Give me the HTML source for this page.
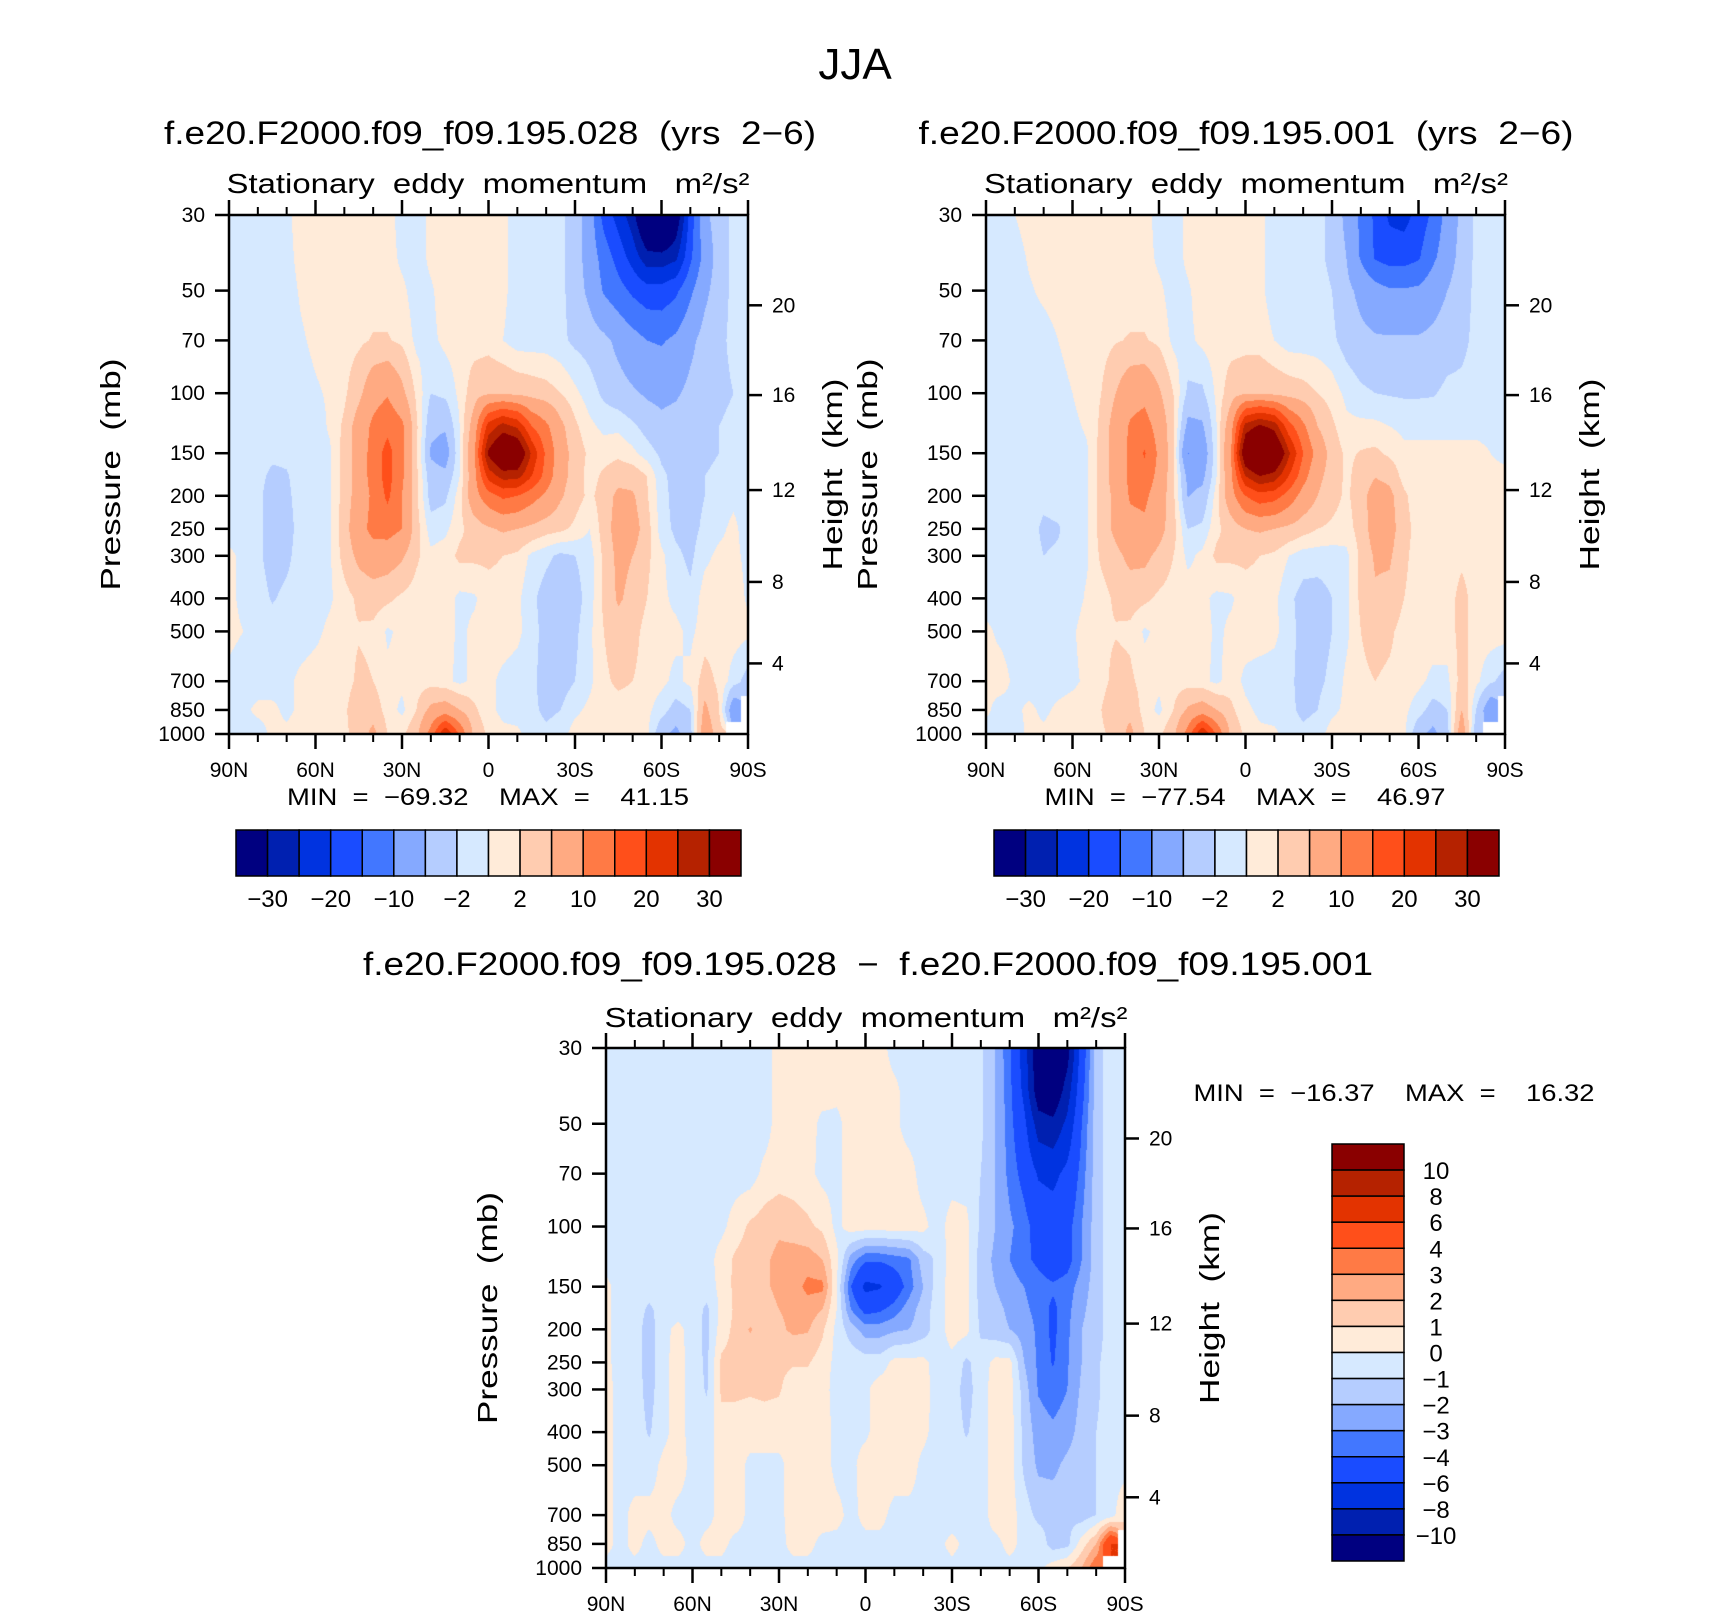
<!DOCTYPE html>
<html>
<head>
<meta charset="utf-8">
<title>JJA Stationary eddy momentum</title>
<style>
  body{margin:0;width:1710px;height:1617px;background:#fff;position:relative;overflow:hidden;font-family:"Liberation Sans",sans-serif;}
  canvas{position:absolute;}
  svg{position:absolute;left:0;top:0;}
  text{font-family:"Liberation Sans",sans-serif;fill:#000;white-space:pre;}
</style>
</head>
<body>
<canvas id="c1" width="519" height="519" style="left:229px;top:215px"></canvas>
<canvas id="c2" width="519" height="519" style="left:986px;top:215px"></canvas>
<canvas id="c3" width="519" height="520" style="left:606px;top:1048px"></canvas>
<svg id="ov" width="1710" height="1617" xml:space="preserve">
  <text x="855" y="79" font-size="44" text-anchor="middle">JJA</text>

  <text x="490" y="144" font-size="32" text-anchor="middle" textLength="652" lengthAdjust="spacingAndGlyphs">f.e20.F2000.f09_f09.195.028  (yrs  2−6)</text>
  <text x="488" y="193" font-size="28" text-anchor="middle" textLength="523" lengthAdjust="spacingAndGlyphs">Stationary  eddy  momentum   m²/s²</text>
  <text x="488" y="805" font-size="24" text-anchor="middle" textLength="402" lengthAdjust="spacingAndGlyphs">MIN  =  −69.32    MAX  =    41.15</text>

  <text x="1246" y="144" font-size="32" text-anchor="middle" textLength="655" lengthAdjust="spacingAndGlyphs">f.e20.F2000.f09_f09.195.001  (yrs  2−6)</text>
  <text x="1246" y="193" font-size="28" text-anchor="middle" textLength="524" lengthAdjust="spacingAndGlyphs">Stationary  eddy  momentum   m²/s²</text>
  <text x="1245" y="805" font-size="24" text-anchor="middle" textLength="401" lengthAdjust="spacingAndGlyphs">MIN  =  −77.54    MAX  =    46.97</text>

  <text x="868" y="975" font-size="32" text-anchor="middle" textLength="1010" lengthAdjust="spacingAndGlyphs">f.e20.F2000.f09_f09.195.028  −  f.e20.F2000.f09_f09.195.001</text>
  <text x="866" y="1027" font-size="28" text-anchor="middle" textLength="523" lengthAdjust="spacingAndGlyphs">Stationary  eddy  momentum   m²/s²</text>
  <text x="1394" y="1101" font-size="24" text-anchor="middle" textLength="401" lengthAdjust="spacingAndGlyphs">MIN  =  −16.37    MAX  =    16.32</text>
</svg>
<script>
// ---------- shared data ----------
const LATS = [90,85,80,75,70,65,60,55,50,45,40,35,30,25,20,15,10,5,0,-5,-10,-15,-20,-25,-30,-35,-40,-45,-50,-55,-60,-65,-70,-75,-80,-85,-90];
const LEVELS = [30,40,50,70,100,125,150,175,200,250,300,400,500,700,850,1000];
const P_TICKS = [30,50,70,100,150,200,250,300,400,500,700,850,1000];
const LAT_TICKS = [90,60,30,0,-30,-60,-90];
const LAT_LABELS = ["90N","60N","30N","0","30S","60S","90S"];
const LAT_MINOR = [80,70,50,40,20,10,-10,-20,-40,-50,-70,-80];
const H_TICKS = [20,16,12,8,4];
const H_FRAC = [0.174,0.347,0.530,0.707,0.864];
const COLORS = ["#000080","#0020b0","#0033e0","#1a4cff","#4277ff","#85a9ff","#b5cdff","#d6e9ff","#ffebd9","#ffccb0","#ffaa82","#ff7a45","#ff4f1a","#e33300","#b52200","#8a0000"];
const LEVS_ABS = [-30,-25,-20,-15,-10,-5,-2,0,2,5,10,15,20,25,30];
const LEVS_DIFF = [-10,-8,-6,-4,-3,-2,-1,0,1,2,3,4,6,8,10];
const CB_ABS_LABELS = ["−30","−20","−10","−2","2","10","20","30"];
const CB_DIFF_LABELS = ["10","8","6","4","3","2","1","0","−1","−2","−3","−4","−6","−8","−10"];

// ---------- field: case 028 (rows = LEVELS, cols = LATS) ----------
const FIELD_028 = [
[-1,-1,-1,-1,-0.5,1,1,1,1,1, 1,1,-1,-1,0.5,1,1,1,1,0.5, -1,-1,-1,-1.5,-3,-7,-17,-22,-28,-40, -45,-35,-18,-6,-3,-1.5,-1],
[-1,-1,-1,-1,-0.8,0.8,1,1,1,1, 1,1,-0.5,-1,0.5,1,1,1,1,0.5, -1,-1,-1,-1.5,-3,-7,-12,-17,-22,-28, -28,-26,-16,-8,-3,-1.5,-1],
[-1,-1,-1,-1,-1,0.3,1,1,1,1, 1,1,0.5,-1,-0.3,1,1,1,0.5,0.5, -1,-1,-1,-1.5,-3,-6,-10.5,-13,-16,-18, -18,-16,-11,-6,-3,-1.5,-1],
[-1,-1,-1,-1,-1,-0.3,0.5,1,1,1.5, 2.2,2.2,1.5,-0.5,-0.5,0.5,1,1,1,0, -1,-1,-1,-1.5,-2.5,-3,-4,-6,-8,-10, -10.5,-9,-6,-3.5,-2.5,-1.5,-1],
[-1,-1,-1,-1,-1,-1,-0.3,0.3,1.5,4, 8,9.5,6,1.5,-2,-1.5,0.5,3.5,4.5,4.5, 4,3.5,3,2,0.5,-1,-2.5,-3.5,-4.5,-5.5, -6,-5.5,-4,-3,-2.5,-2,-1],
[-1,-1,-1,-1.3,-1.3,-1,-1,0.3,2.5,7, 11,13.5,11,2.5,-4,-4.5,0,7,22,27, 24,15,11,6,2.5,0.5,-0.5,-0.5,-1.5,-3, -4,-3.5,-3,-2.5,-2,-1.5,-1],
[-1,-1,-1,-1.5,-1.5,-1,-1,-0.3,3,7, 12,17,11,2.5,-5.5,-7,0,9,31,40, 38,24,14,7,3.5,1.5,1,1.5,0.5,-1, -2.5,-3,-3,-2.5,-2,-1.5,-1],
[-1,-1,-1.3,-2.5,-2.2,-1,-1.2,-0.3,3,7, 12,17,11,2.5,-3.5,-4,0,8,22,27, 27,20,13,6.5,3.5,1,2.5,3.5,3.5,2, -1.5,-2.8,-3,-2,-1.5,-1,-1],
[-1,-1,-1.5,-3,-2.5,-1,-1.8,-0.2,3,7, 11,16,10,2.5,-3,-2.5,1,8,13,16, 15,12,9,5.5,3,1.5,3,6,5.5,2.2, -1,-3,-3,-2,-1,-0.5,-1],
[-1,-1,-1.5,-3,-3,-1,-1.8,-0.3,3.5,8, 11.5,12,10,3,-1,-0.5,1.5,3,4.5,5.5, 5,4,3,2.5,1.5,0,3,7,7,3, -1,-2.5,-2.8,-1.5,-0.5,0.5,-1],
[0.5,-0.5,-1.5,-3,-2.5,-1,-1,-0.3,3,6, 7.5,7,5.5,2.5,0.5,1,2.5,2.5,2.5,2, 1.5,-0.5,-1.5,-2.5,-2,-1,2.5,6,5,2.5, 0.5,-1.5,-2.5,-0.5,0.5,0.5,-0.5],
[0.5,-0.5,-1,-2.2,-1.5,-1,-1,-0.3,1,2.5, 3,2.5,1.5,0.8,1,1,-0.5,-0.3,1,1, 0.5,-1.5,-3,-3.5,-3,-1,2.5,5.5,4,2, 0.5,-0.5,-1.5,1,1,1,-0.3],
[0.5,0,-0.5,-1,-1,-1,-0.5,0.5,1.5,1.8, 1.5,-0.3,0.5,1,1,1,-0.5,0.5,1,1, 0.5,-1,-3,-3,-2.5,-0.5,2,3.5,3,1, 0.5,0.5,-0.5,1,1,1,0.5],
[-0.5,-1,-1,-1,-0.5,0.5,1,1,1,2.5, 2,0.5,0.5,1,1,0.5,-0.5,0.5,0.5,-0.5, -1,-1.5,-3,-3,-2,-0.5,1.5,2.5,2,1, 0.5,-0.5,0.5,3,1.5,-1,-3],
[-1,-0.5,0.5,0.5,-0.5,0.5,1,1,1.5,4, 3.5,1,-0.5,2,6,7,5,2.5,0.5,-0.5, -1,-1.5,-2.5,-2,-0.5,0.5,1,1,1,0.5, -1,-3,-2,6,2,-8,NaN],
[-1,-1,-1,0.5,0.5,1,1,1,1.5,3, 6,2,1.5,4,12,25,14,4,1.5,0.5, 0.5,-1,-1.5,-1,1,1,1,1,1,0.5, -4,-6,-3,8,3,NaN,NaN]
];

// ---------- field: case 001 ----------
const FIELD_001 = [
[-1,-1,0,1,1,1,1,1,1,1, 1,1,-1,-1,0.5,1,1,1,1,0.5, -1,-1,-1,-1.5,-2.5,-6,-11,-16,-21,-22, -18,-14,-8,-4,-1.5,-1,-1],
[-1,-1,-1,0.3,1,1,1,1,1,1, 1,1,-0.5,-1,0.5,1,1,1,1,0.5, -1,-1,-1,-1.5,-2.5,-5,-10.5,-15.5,-17,-17, -15.5,-11,-7,-3.5,-1.5,-1,-1],
[-1,-1,-1,-0.3,0.5,1,1,1,1,1, 1,1,0.5,-1,-0.3,1,1,1,0.5,0.5, -1,-1,-1,-1.2,-2,-4,-6,-8,-9.5,-9.5, -9,-7,-5,-3,-1.5,-1,-1],
[-1,-1,-1,-1,-1,0,1,1,1,1.8, 2.2,2.2,1.5,-0.5,-0.5,0.5,1,1,1,1, 0,-1,-1,-1,-1.5,-3,-4,-4.5,-4.5,-4.5, -4.5,-4,-3,-2.5,-1.5,-1,-1],
[-1,-1,-1,-1,-1,-1,0,1,2,5, 8,8.5,5.5,2,-2.5,-2.5,0.5,3.5,4.5,4.5, 4,3.5,3,2,1,-0.5,-1.5,-2,-2.2,-2.3, -2.3,-2.2,-1.5,-1.5,-1.2,-1,-1],
[-1,-1,-1,-1,-1,-1,-0.5,0.3,2.5,7, 10.5,12,8,2.5,-6,-5.5,0,8,27,31, 28,17,11,5,2.5,0.5,0.5,0.5,0,-0.5, -0.5,-0.5,-0.5,-0.5,-0.5,-0.5,-0.5],
[-1,-1,-1,-1,-1,-1,-1,-0.3,3,7, 11,15.5,9,2.5,-10.2,-8,0,10,37,45, 40,26,15,8,3.5,1.5,2.2,2.5,1.5,0.5, 0.5,0.5,0.5,0.5,0.5,0,-0.5],
[-1,-1,-1,-1,-1,-1,-1,-0.3,3,7, 11,13,8.5,2.5,-6,-6,0,9,25,30, 28,20,12,6,3.5,1.5,3,4.8,4,1, 0.5,0.5,0.5,0.5,0.5,0.5,0.5],
[-1,-1,-1,-1,-1.3,-1,-1,-0.3,3,6, 10.5,11,7.5,2.5,-5.2,-4,1,8,15,18, 17,13,8,5,3,1.5,3.5,7,6,2.5, 0.5,0.5,0.5,0.5,0.5,0.5,0.5],
[-1,-1,-1,-1,-2.5,-2.2,-1,-0.3,3,6, 8.5,9,6.5,3,-2,-1.5,1.5,3,5,5.5, 5,4,3,2,1.5,1,3,7,6.5,3, 1,1,1,1,1,1,1],
[-1,-1,-1,-1,-2,-1.7,-1,-0.3,2.5,4, 6,6,4,2,-0.5,0.5,2.5,2.5,2.5,2, 1.5,0,-1,-1,-1,-0.5,2.5,5.5,5.5,2.5, 1,1,1,1.5,1,1,1],
[-1,-1,-1,-1,-1,-1,-1,0.3,1,2.5, 3,2.5,1.5,1,1,0.5,-0.5,-0.3,1,1, 0.5,-1.5,-2.8,-3,-2,-0.5,2.5,4.5,4,2, 1,1,1,2.8,1,1,1],
[0.5,-0.5,-1,-1,-1,-1,-0.3,1,1.5,1.8, 1.5,-0.3,0.5,1,1,1,-0.5,0.5,1,1, 0.5,-1,-3,-3,-2,-0.5,2,3,2.5,1, 1,1,1,2.8,1,1,1],
[0.5,1,-0.5,-1,-1,-1,-0.5,0.5,1,3, 2.5,1,0.5,1,1,0.5,-0.5,1,-0.5,-1, -1,-1.5,-2.8,-2.5,-1.5,0.5,1.5,2,1.5,1, 0.5,-0.5,-0.5,3,0.5,-1.5,-3],
[0.5,-1,-0.5,0.5,-0.5,0.5,1,1,2,4.5, 4,1,-0.5,2,5.5,7,5,2.5,0.5,-0.5, -1,-1.5,-2.5,-2,-0.5,0.5,1,1,1,0.5, -1,-3,-2,5,-2,-8,NaN],
[-1,-1,-1,0.5,0.5,1,1,1,1.5,3, 6,2,1.5,4,12,25,14,4,1.5,0.5, 0.5,-1,-1.5,-1,1,1,1,1,1,0.5, -4,-6,-3,8,-4,NaN,NaN]
];

// ---------- field: difference 028 - 001 ----------
const FIELD_DIFF = [
[-0.5,-0.5,-0.5,-0.5,-0.5,-0.5,-0.5,-0.5,-0.5,-0.5, -0.5,-0.5,0.5,0.5,0.3,0.5,0.3,0.5,0.5,0.5, -0.5,-0.5,-0.5,-0.5,-0.5,-0.5,-0.8,-2,-3.8,-7, -12,-13,-11,-5,-1.5,-0.5,-0.5],
[-0.5,-0.5,-0.5,-0.5,-0.5,-0.5,-0.5,-0.5,-0.5,-0.5, -0.5,-0.5,0.5,0.5,0.5,0.5,0.3,0.5,0.5,0.5, 0.3,-0.5,-0.5,-0.5,-0.5,-0.5,-0.8,-2,-3.6,-6.5, -11.5,-12,-9,-4.5,-1.5,-0.5,-0.5],
[-0.5,-0.5,-0.5,-0.5,-0.5,-0.5,-0.5,-0.5,-0.5,-0.5, -0.5,-0.5,0.5,0.5,0.5,-0.3,-0.3,0.5,0.5,0.5, 0.3,-0.5,-0.5,-0.5,-0.5,-0.5,-0.8,-2,-3.5,-5.5, -9,-9.5,-7.5,-4,-1.5,-0.5,-0.5],
[-0.5,-0.5,-0.5,-0.5,-0.5,-0.5,-0.5,-0.5,-0.5,-0.5, -0.5,0.3,0.5,0.5,0.3,-0.3,-0.3,0.5,0.5,0.5, 0.5,0.5,-0.5,-0.5,-0.5,-0.5,-1,-2,-3.3,-4.5, -6.2,-6.5,-5.5,-3.5,-1.5,-0.5,-0.5],
[-0.5,-0.5,-0.5,-0.5,-0.5,-0.5,-0.5,-0.5,-0.3,0.5, 1.2,1.5,1.8,1.5,1.2,0.8,-0.3,0.5,0.5,0.5, 0.5,0.5,0.3,-0.5,0.5,0.3,-1.2,-2,-2.8,-3.5, -4.7,-5,-4.5,-3,-1.5,-0.5,-0.5],
[-0.5,-0.5,-0.5,-0.5,-0.5,-0.5,-0.5,-0.5,0.5,1.2, 1.5,1.8,2.3,2.5,2.5,2,0.3,-2.5,-3.8,-3.8, -3.5,-3.2,-1.5,-0.8,0.5,0.3,-1.5,-2.2,-3,-3.7, -4.3,-5,-4.5,-3,-1.5,-0.5,-0.5],
[0.3,-0.5,-0.5,-0.5,-0.5,-0.5,-0.5,-0.5,0.3,1.3, 1.5,1.8,2.3,2.5,3.3,3.3,0,-4,-6.5,-6.2, -5,-3.5,-2,-0.5,0.5,0.3,-1.5,-2,-2.5,-3, -3.5,-3.8,-3.5,-2.5,-1.5,-0.5,-0.5],
[0.3,-0.5,-0.5,-1.2,-0.5,-0.5,-0.5,-1.2,0.3,1.2, 1.3,1.5,2,2.2,2.5,2,0,-3,-4.5,-4.2, -3.5,-2.5,-1.5,-0.5,0.5,0.3,-1.3,-1.7,-2.2,-2.8, -3.3,-4.3,-3.3,-2.2,-1.5,-0.5,-0.5],
[0.3,-0.5,-0.5,-1.5,-0.3,0.3,-0.5,-1.3,0.5,1.3, 2.1,1.5,1.8,2.2,2.1,1.2,-0.3,-1.5,-2.5,-2.5, -2.2,-2,-1.5,-0.5,0.5,0.3,-1.2,-1.6,-2,-2.5, -3.2,-4.3,-3.2,-2,-1.5,-0.5,-0.5],
[0.3,-0.5,-0.5,-1.5,-0.3,0.5,-0.5,-1.2,1.2,1.3, 1.3,1.3,1.2,1.1,1.1,0.5,-0.3,-0.3,-0.5,-0.5, 0.3,0.3,0.3,-0.5,-0.3,-1.2,-0.5,0.3,0.3,-2, -3.2,-4.1,-3.1,-2,-1.2,-0.5,-0.5],
[0.3,-0.3,-0.5,-1.4,-0.3,0.5,-0.5,-1.1,1.2,1.2, 1.1,1.2,1.1,0.5,0.5,0.5,-0.5,-0.3,-0.2,0.5, 0.5,0.5,0.5,-0.5,-0.5,-1.4,-0.5,0.5,0.5,-1.5, -3.1,-3.5,-3,-1.8,-1.2,-0.5,-0.5],
[0.3,-0.3,-0.5,-1.1,-0.3,0.5,-0.5,-0.5,0.5,0.5, 0.5,0.5,0.5,0.5,0.5,0.5,-0.3,-0.3,-0.2,0.5, 0.5,0.5,0.3,-0.5,-0.5,-1.1,-0.5,0.5,0.5,-1.3, -2.5,-2.8,-2.5,-1.5,-1,-0.5,-0.5],
[0.3,-0.3,-0.5,-0.5,0.3,0.5,-0.3,-0.5,0.5,0.5, -0.3,-0.3,-0.3,0.5,0.5,0.5,-0.3,-0.3,0.5,0.5, 0.5,0.5,-0.3,-0.5,-0.5,-0.5,-0.5,0.5,0.5,-1.2, -2.2,-2.3,-1.7,-1.2,-1,-0.5,-0.5],
[0.3,-0.3,0.3,0.3,0.3,-0.3,-0.3,-0.3,0.3,0.5, -0.3,-0.3,-0.3,0.5,0.5,0.5,0.3,-0.3,0.3,0.3, -0.3,-0.3,-0.3,-0.5,-0.5,-0.5,-0.5,0.5,0.5,-0.5, -1.3,-1.3,-1.2,-1.5,-1,-0.5,1],
[0.3,-0.3,0.3,-0.3,0.3,0.3,-0.3,0.3,0.3,-0.3, -0.3,-0.3,-0.3,0.3,0.3,-0.3,-0.3,-0.3,-0.3,-0.3, -0.3,-0.3,-0.3,-0.3,0.3,-0.3,-0.3,-0.3,0.3,-0.3, -0.3,-1.5,-1.3,0.5,2,6,NaN],
[-0.3,-0.3,-0.3,-0.3,-0.3,-0.3,-0.3,-0.3,-0.3,-0.5, -0.3,-0.3,-0.3,-0.3,-0.3,-0.3,-0.3,-0.3,-0.3,-0.3, -0.3,-0.3,-0.3,-0.3,-0.3,-0.3,-0.3,-0.3,-0.3,-0.3, -0.3,0.5,1,2,4,NaN,NaN]
];

// ---------- rendering ----------
const NS = "http://www.w3.org/2000/svg";
const svg = document.getElementById("ov");
const LP = LEVELS.map(Math.log10);
const LTOP = Math.log10(30), LBOT = Math.log10(1000);

function hexRgb(h){ return [parseInt(h.substr(1,2),16),parseInt(h.substr(3,2),16),parseInt(h.substr(5,2),16)]; }
const RGB = COLORS.map(hexRgb);

function drawField(cv, field, levs){
  const ctx = cv.getContext("2d");
  const w = cv.width, h = cv.height;
  const img = ctx.createImageData(w, h);
  const d = img.data;
  const nLat = LATS.length;
  for(let y=0;y<h;y++){
    const l = LTOP + (y+0.5)/h*(LBOT-LTOP);
    let r = 0;
    while(r < LP.length-2 && l > LP[r+1]) r++;
    const t = Math.max(0, Math.min(1, (l-LP[r])/(LP[r+1]-LP[r])));
    for(let x=0;x<w;x++){
      const lat = 90 - (x+0.5)/w*180;
      const cf = (LATS[0]-lat)/(LATS[0]-LATS[1]);
      const c = Math.min(Math.floor(cf), nLat-2);
      const s = cf - c;
      const idx = (y*w+x)*4;
      const nr = t<0.5 ? r : r+1, nc = s<0.5 ? c : c+1;
      if(isNaN(field[nr][nc])){ d[idx]=255;d[idx+1]=255;d[idx+2]=255;d[idx+3]=255; continue; }
      const vals = [field[r][c],field[r][c+1],field[r+1][c],field[r+1][c+1]];
      const wts = [(1-t)*(1-s),(1-t)*s,t*(1-s),t*s];
      let sum=0, ws=0;
      for(let k=0;k<4;k++){ if(!isNaN(vals[k])){ sum+=vals[k]*wts[k]; ws+=wts[k]; } }
      const v = ws>0 ? sum/ws : 0;
      let k=0; while(k<levs.length && v>=levs[k]) k++;
      const col = RGB[k];
      d[idx]=col[0]; d[idx+1]=col[1]; d[idx+2]=col[2]; d[idx+3]=255;
    }
  }
  ctx.putImageData(img,0,0);
}

function mk(tag, attrs, txt){
  const e = document.createElementNS(NS, tag);
  for(const k in attrs) e.setAttribute(k, attrs[k]);
  if(txt!==undefined) e.textContent = txt;
  svg.appendChild(e);
  return e;
}

function drawAxes(prefix, x0, y0, w, h){
  const yOf = p => y0 + h*(Math.log10(p)-LTOP)/(LBOT-LTOP);
  const xOf = lat => x0 + (90-lat)/180*w;
  const fr = mk("rect",{x:x0,y:y0,width:w,height:h,fill:"none",stroke:"#000","stroke-width":2.5});
  
  
  P_TICKS.forEach(p=>{
    const y = yOf(p);
    const tk = mk("line",{x1:x0-14,x2:x0,y1:y,y2:y,stroke:"#000","stroke-width":2.5});
    
    
    const lb = mk("text",{x:x0-24,y:y+7,"font-size":21,"text-anchor":"end"}, String(p));
    
    
  });
  H_TICKS.forEach((km,i)=>{
    const y = y0 + h*H_FRAC[i];
    const tk = mk("line",{x1:x0+w,x2:x0+w+14,y1:y,y2:y,stroke:"#000","stroke-width":2.5});
    
    
    const lb = mk("text",{x:x0+w+24,y:y+7,"font-size":21,"text-anchor":"start"}, String(km));
    
    
  });
  LAT_TICKS.forEach((lat,i)=>{
    const x = xOf(lat);
    const tb = mk("line",{x1:x,x2:x,y1:y0+h,y2:y0+h+15,stroke:"#000","stroke-width":2.5});
    
    
    const tt = mk("line",{x1:x,x2:x,y1:y0-15,y2:y0,stroke:"#000","stroke-width":2.5});
    
    
    const lb = mk("text",{x:x,y:y0+h+43,"font-size":21,"text-anchor":"middle"}, LAT_LABELS[i]);
    
    
  });
  LAT_MINOR.forEach(lat=>{
    const x = xOf(lat);
    const mb = mk("line",{x1:x,x2:x,y1:y0+h,y2:y0+h+8,stroke:"#000","stroke-width":2});
    
    
    const mt = mk("line",{x1:x,x2:x,y1:y0-8,y2:y0,stroke:"#000","stroke-width":2});
    
    
  });
  const cy = y0 + h/2;
  const py = mk("text",{x:0,y:0,"font-size":28,"text-anchor":"middle",textLength:232,lengthAdjust:"spacingAndGlyphs",transform:`translate(${x0-109},${cy}) rotate(-90)`}, "Pressure  (mb)");
  
  
  const hy = mk("text",{x:0,y:0,"font-size":28,"text-anchor":"middle",textLength:192,lengthAdjust:"spacingAndGlyphs",transform:`translate(${x0+w+94},${cy}) rotate(-90)`}, "Height  (km)");
  
  
}

function hColorbar(prefix, x0, y0, w, h){
  const bw = w/COLORS.length;
  COLORS.forEach((c,i)=>{
    const r = mk("rect",{x:x0+i*bw,y:y0,width:bw,height:h,fill:c,stroke:"#000","stroke-width":1.5});
    
    
  });
  CB_ABS_LABELS.forEach((t,i)=>{
    const x = x0 + (2*i+1)*bw;
    const lb = mk("text",{x:x,y:y0+h+31,"font-size":24,"text-anchor":"middle"}, t);
    
    
  });
}

function vColorbar(prefix, x0, y0, w, h){
  const bh = h/COLORS.length;
  for(let i=0;i<COLORS.length;i++){
    const c = COLORS[COLORS.length-1-i];
    const r = mk("rect",{x:x0,y:y0+i*bh,width:w,height:bh,fill:c,stroke:"#000","stroke-width":1.5});
    
    
  }
  CB_DIFF_LABELS.forEach((t,i)=>{
    const y = y0 + (i+1)*bh;
    const lb = mk("text",{x:x0+w+32,y:y+9,"font-size":24,"text-anchor":"middle"}, t);
    
    
  });
}

drawField(document.getElementById("c1"), FIELD_028, LEVS_ABS);
drawField(document.getElementById("c2"), FIELD_001, LEVS_ABS);
drawField(document.getElementById("c3"), FIELD_DIFF, LEVS_DIFF);

drawAxes("plot1", 229, 215, 519, 519);
drawAxes("plot2", 986, 215, 519, 519);
drawAxes("plot3", 606, 1048, 519, 520);

hColorbar("plot1", 236, 830, 505, 46);
hColorbar("plot2", 994, 830, 505, 46);
vColorbar("plot3", 1332, 1144, 72, 417);
</script>
</body>
</html>
